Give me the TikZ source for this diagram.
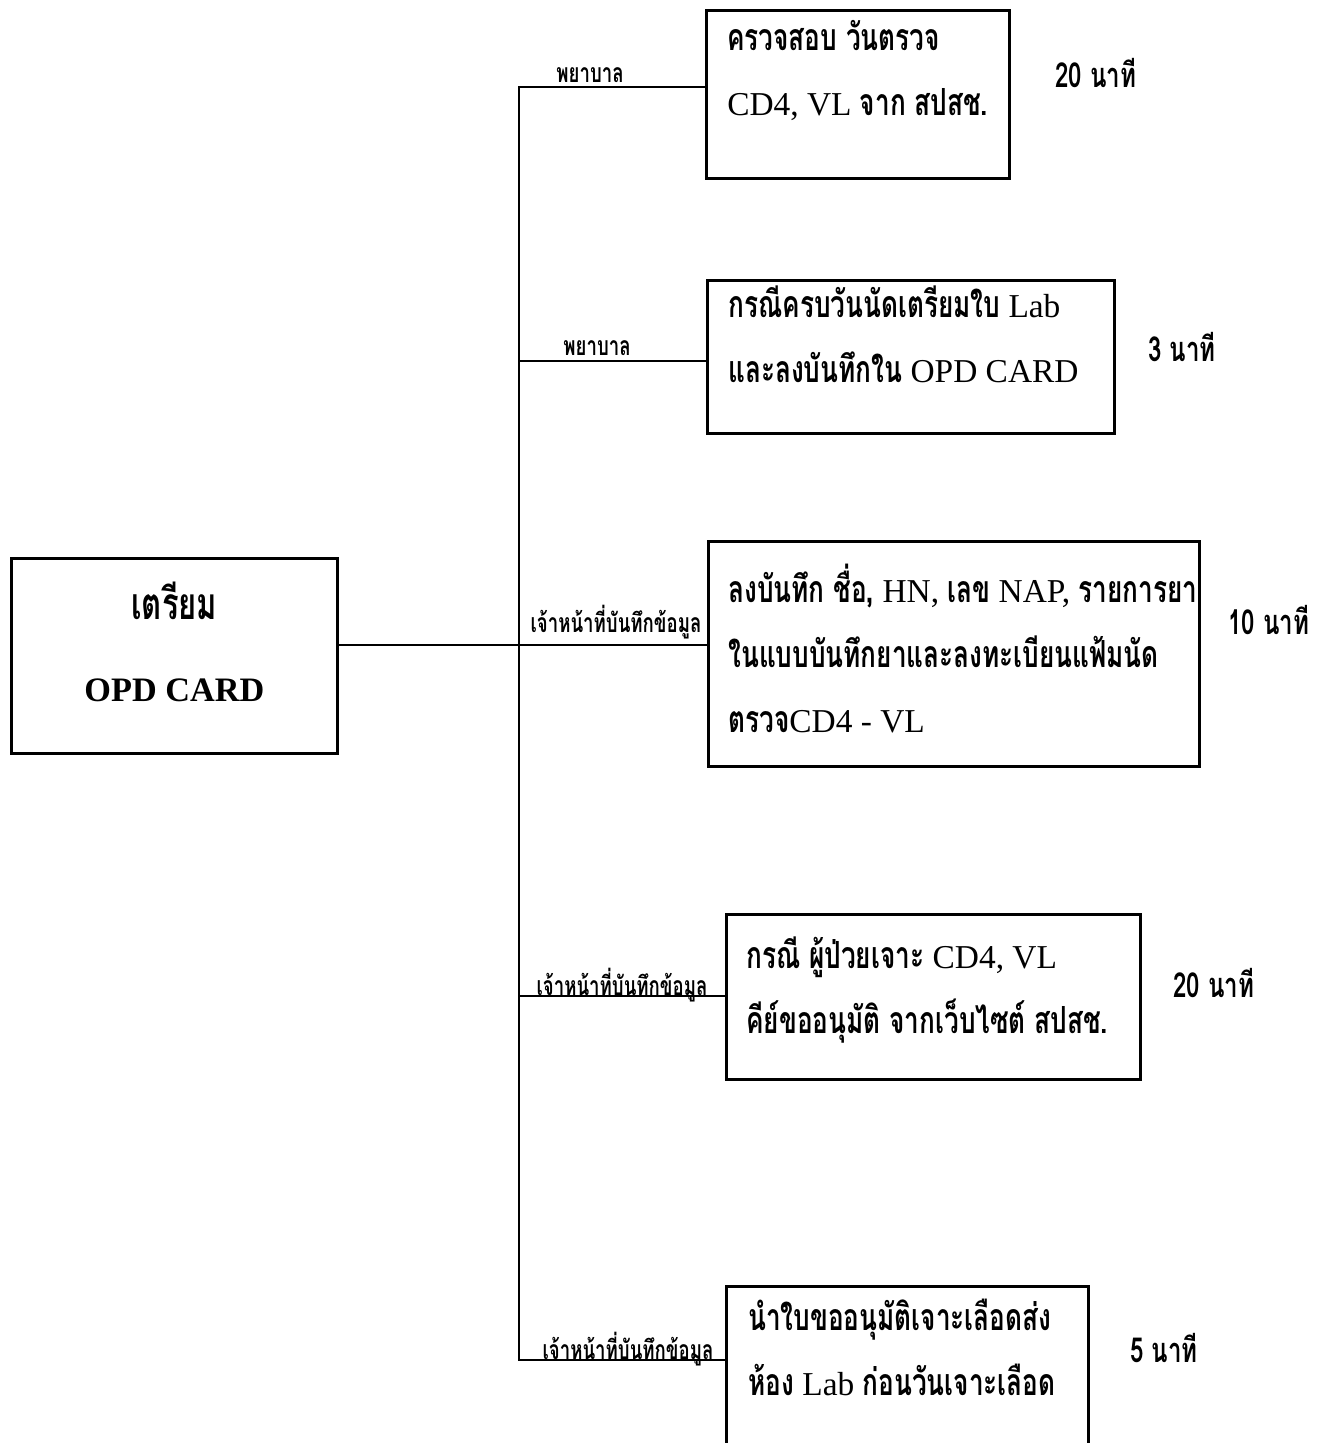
\documentclass[tikz,border=0pt]{standalone}
\usepackage{fontspec}
\setmainfont{Liberation Serif}
\newfontfamily\thai[Script=Thai,FakeStretch=0.70,Scale=1.12]{Loma}
\newcommand\tx[1]{{\thai\bfseries #1}}
% fixed-height first line so every text block hangs the same way
\newcommand\firstline{\rule{0pt}{1.4cm}}
\begin{document}
\begin{tikzpicture}[x=0.02cm,y=-0.02cm,
  box/.style={draw, line width=1.6pt, anchor=north west, inner sep=0pt},
  boxtext/.style={anchor=north west, align=left, inner sep=0pt,
    font=\fontsize{19}{37}\selectfont},
  role/.style={font=\thai\bfseries\fontsize{13.5}{15}\selectfont, inner sep=1pt},
  dur/.style={font=\thai\bfseries\fontsize{17.5}{20}\selectfont, anchor=west, inner sep=0pt},
  wire/.style={line width=1.6pt}]
\useasboundingbox (0,0) rectangle (1322,1443);
\fill[white] (0,0) rectangle (1322,1443);
\clip (0,0) rectangle (1322,1443);

% root box and its caption
\node[box, minimum width=6.52cm, minimum height=3.9cm] (root) at (10,557) {};
\node[align=center, inner sep=0pt, font=\bfseries\fontsize{19.5}{47}\selectfont]
  (rootlabel) at ([yshift=0.28cm]root.center)
  {{\thai\bfseries\fontsize{22.5}{47}\selectfont เตรียม}\\OPD CARD};

% task boxes
\node[box, minimum width=6.06cm, minimum height=3.36cm] (b1) at (705,9) {};
\node[box, minimum width=8.14cm, minimum height=3.06cm] (b2) at (706,279) {};
\node[box, minimum width=9.82cm, minimum height=4.50cm] (b3) at (707,540) {};
\node[box, minimum width=8.28cm, minimum height=3.30cm] (b4) at (725,913) {};
\node[box, minimum width=7.24cm, minimum height=3.50cm] (b5) at (725,1285) {};

% task texts
\node[boxtext] (t1) at ([xshift=0.44cm,yshift=0.58cm]b1.north west)
  {\firstline\tx{ครวจสอบ วันตรวจ}\\CD4, VL \tx{จาก สปสช.}};
\node[boxtext] (t2) at ([xshift=0.44cm,yshift=0.64cm]b2.north west)
  {\firstline\tx{กรณีครบวันนัดเตรียมใบ} Lab\\\tx{และลงบันทึกใน} OPD CARD};
\node[boxtext] (t3) at ([xshift=0.42cm,yshift=0.16cm]b3.north west)
  {\firstline\tx{ลงบันทึก ชื่อ,} HN, \tx{เลข} NAP, \tx{รายการยา}\\\tx{ในแบบบันทึกยาและลงทะเบียนแฟ้มนัด}\\\tx{ตรวจ}CD4 - VL};
\node[boxtext] (t4) at ([xshift=0.42cm,yshift=0.30cm]b4.north west)
  {\firstline\tx{กรณี ผู้ป่วยเจาะ} CD4, VL\\\tx{คีย์ขออนุมัติ จากเว็บไซต์ สปสช.}};
\node[boxtext] (t5) at ([xshift=0.46cm,yshift=0.50cm]b5.north west)
  {\firstline\tx{นำใบขออนุมัติเจาะเลือดส่ง}\\\tx{ห้อง} Lab \tx{ก่อนวันเจาะเลือด}};

% junctions on the trunk
\coordinate (j1) at (519,87);
\coordinate (j2) at (519,361);
\coordinate (j3) at (519,645);
\coordinate (j4) at (519,996);
\coordinate (j5) at (519,1360);

% connectors
\draw[wire] (j1 -| b1.west) -- (j1) -- (j5) -- (j5 -| b5.west);
\draw[wire] (j2) -- (j2 -| b2.west);
\draw[wire] (j3 -| root.east) -- (j3) -- (j3 -| b3.west);
\draw[wire] (j4) -- (j4 -| b4.west);

% responsible staff
\node[role] (r1) at (590,75) {พยาบาล};
\node[role] (r2) at (597,348) {พยาบาล};
\node[role] (r3) at (616,622) {เจ้าหน้าที่บันทึกข้อมูล};
\node[role] (r4) at (622,985) {เจ้าหน้าที่บันทึกข้อมูล};
\node[role] (r5) at (628,1349) {เจ้าหน้าที่บันทึกข้อมูล};

% durations
\node[dur] (d1) at (1055,73) {20 นาที};
\node[dur] (d2) at (1148,347) {3 นาที};
\node[dur] (d3) at (1228,620) {10 นาที};
\node[dur] (d4) at (1173,983) {20 นาที};
\node[dur] (d5) at (1130,1348) {5 นาที};
\end{tikzpicture}
\end{document}
